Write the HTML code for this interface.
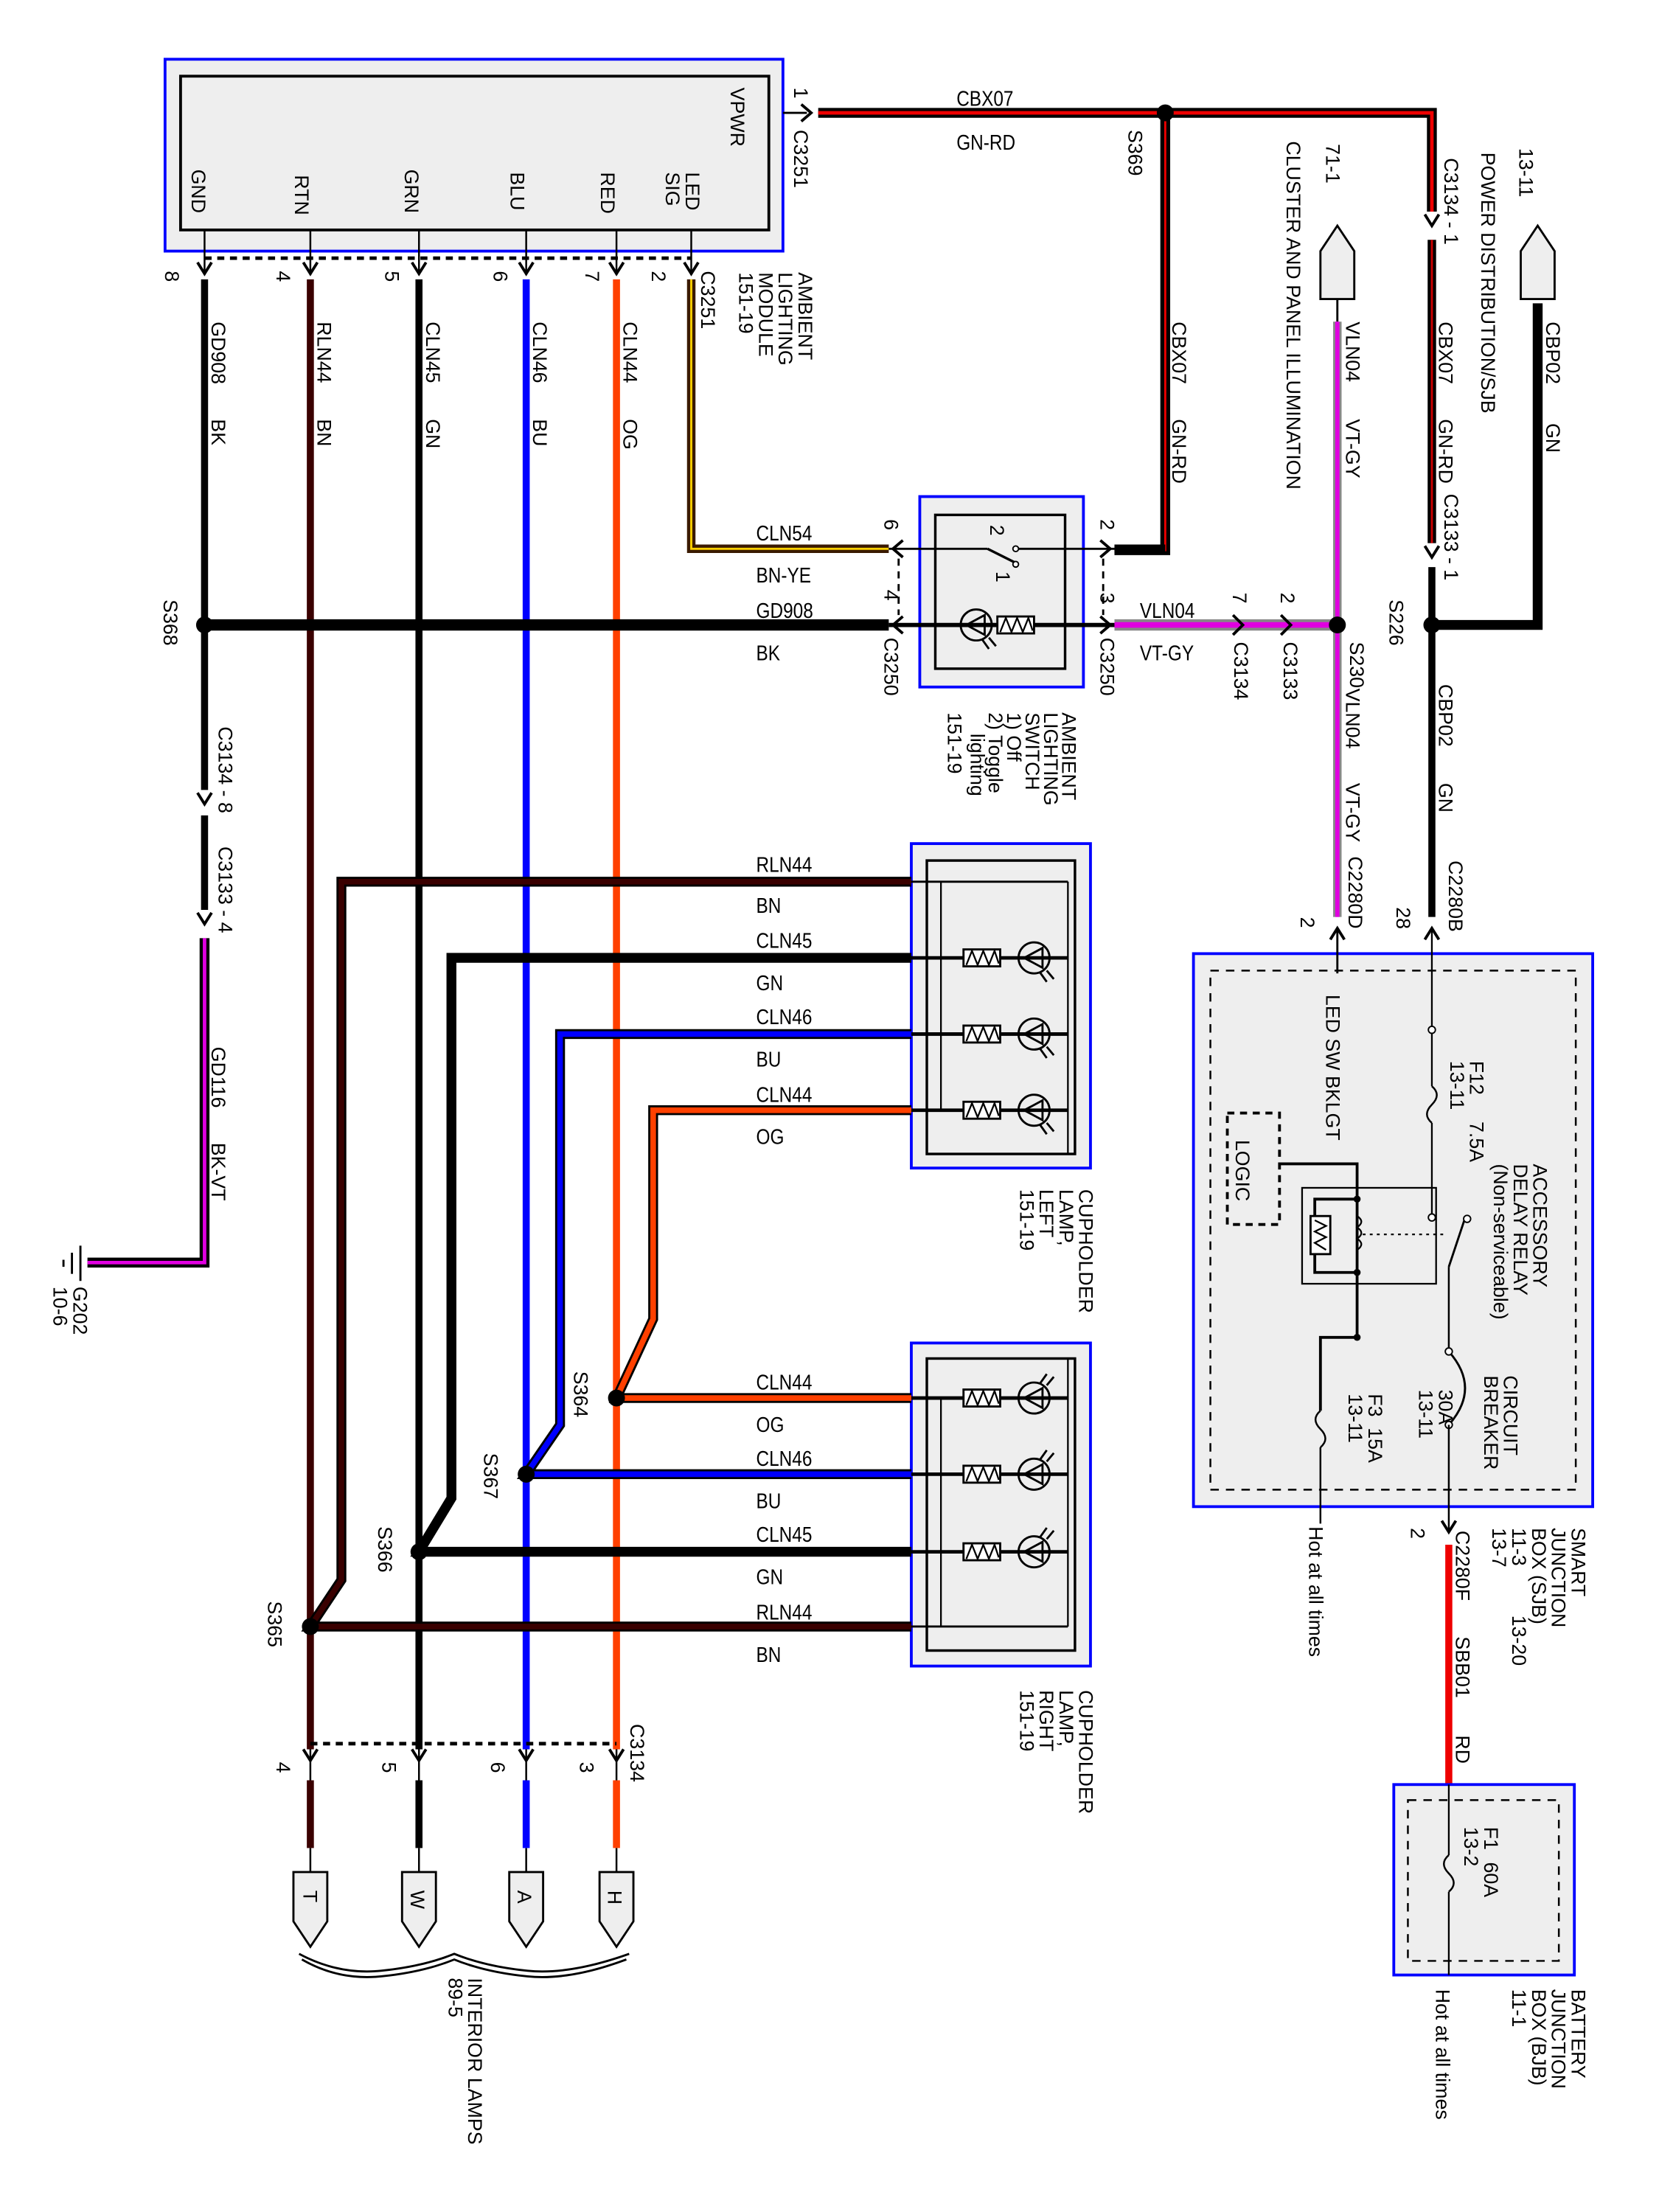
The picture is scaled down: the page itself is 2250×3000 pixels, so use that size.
<!DOCTYPE html>
<html><head><meta charset="utf-8"><style>
html,body{margin:0;padding:0;background:#fff;}
svg{display:block;}
text{font-family:"Liberation Sans",sans-serif;fill:#000;}
.r{font-size:14px;}
.h{font-size:15px;}
</style></head><body>
<svg width="2250" height="3000" viewBox="0 0 1176 1568" preserveAspectRatio="none" xmlns="http://www.w3.org/2000/svg">
<defs>
<g id="ad"><path d="M-5,-6 L0,2 L5,-6" fill="none" stroke="#000" stroke-width="2"/></g>
<g id="res"><rect x="0" y="-6" width="26" height="12" fill="#fff" stroke="#000" stroke-width="1.5"/><path d="M2,5 L6,-5 L10,5 L14,-5 L18,5 L22,-5 L25,4" fill="none" stroke="#000" stroke-width="1.2"/></g>
<g id="lamp"><circle cx="0" cy="0" r="11" fill="none" stroke="#000" stroke-width="1.5"/><path d="M-7,0 L6,-7 L6,7 Z" fill="none" stroke="#000" stroke-width="1.5"/><path d="M4,10 L9,17 M9,9 L14,15" stroke="#000" stroke-width="1.5"/></g>
</defs>

<!-- Ambient lighting module -->
<rect x="117" y="42" width="438" height="136" fill="#eee" stroke="#00f" stroke-width="2"/>
<rect x="128" y="54" width="417" height="109" fill="#eee" stroke="#000" stroke-width="2"/>
<g class="r">
<text transform="translate(518,62) rotate(90)">VPWR</text>
<text transform="translate(136,120) rotate(90)">GND</text>
<text transform="translate(209,124) rotate(90)">RTN</text>
<text transform="translate(287,120) rotate(90)">GRN</text>
<text transform="translate(362,122) rotate(90)">BLU</text>
<text transform="translate(426,122) rotate(90)">RED</text>
<text transform="translate(486,122) rotate(90)">LED</text>
<text transform="translate(472,122) rotate(90)">SIG</text>
<text transform="translate(563,62) rotate(90)">1</text>
<text transform="translate(563,92) rotate(90)">C3251</text>
<text transform="translate(800,92) rotate(90)">S369</text>
<text transform="translate(117,192) rotate(90)">8</text>
<text transform="translate(196,192) rotate(90)">4</text>
<text transform="translate(273,192) rotate(90)">5</text>
<text transform="translate(350,192) rotate(90)">6</text>
<text transform="translate(415,192) rotate(90)">7</text>
<text transform="translate(462,192) rotate(90)">2</text>
<text transform="translate(497,192) rotate(90)">C3251</text>
<text transform="translate(566,193) rotate(90)">AMBIENT</text>
<text transform="translate(552,193) rotate(90)">LIGHTING</text>
<text transform="translate(538,193) rotate(90)">MODULE</text>
<text transform="translate(524,193) rotate(90)">151-19</text>
</g>
<g stroke="#000" stroke-width="1.3">
<line x1="145" y1="163" x2="145" y2="195"/><line x1="220" y1="163" x2="220" y2="195"/>
<line x1="297" y1="163" x2="297" y2="195"/><line x1="373" y1="163" x2="373" y2="195"/>
<line x1="437" y1="163" x2="437" y2="195"/><line x1="490" y1="163" x2="490" y2="195"/>
</g>
<line x1="145" y1="183" x2="490" y2="183" stroke="#000" stroke-width="2.5" stroke-dasharray="5,4"/>
<use href="#ad" x="145" y="192"/><use href="#ad" x="220" y="192"/><use href="#ad" x="297" y="192"/>
<use href="#ad" x="373" y="192"/><use href="#ad" x="437" y="192"/><use href="#ad" x="490" y="192"/>

<line x1="145" y1="198" x2="145" y2="560" stroke="#000" stroke-width="5"/>
<line x1="220" y1="198" x2="220" y2="1240" stroke="#3a0000" stroke-width="5"/>
<line x1="297" y1="198" x2="297" y2="1240" stroke="#000" stroke-width="5"/>
<line x1="373" y1="198" x2="373" y2="1240" stroke="#0000ff" stroke-width="5"/>
<line x1="437" y1="198" x2="437" y2="1240" stroke="#ff4000" stroke-width="5"/>
<path d="M490,198 L490,389 L630,389" fill="none" stroke="#3a1a00" stroke-width="6"/>
<path d="M490,198 L490,389 L630,389" fill="none" stroke="#ffd000" stroke-width="1.5"/>
<g class="r">
<text transform="translate(150,228) rotate(90)">GD908</text><text transform="translate(150,297) rotate(90)">BK</text>
<text transform="translate(225,228) rotate(90)">RLN44</text><text transform="translate(225,297) rotate(90)">BN</text>
<text transform="translate(302,228) rotate(90)">CLN45</text><text transform="translate(302,297) rotate(90)">GN</text>
<text transform="translate(378,228) rotate(90)">CLN46</text><text transform="translate(378,297) rotate(90)">BU</text>
<text transform="translate(442,228) rotate(90)">CLN44</text><text transform="translate(442,297) rotate(90)">OG</text>
</g>

<line x1="555" y1="80" x2="572" y2="80" stroke="#000" stroke-width="1.5"/>
<path d="M568,74 L575,80 L568,86" fill="none" stroke="#000" stroke-width="2"/>
<path d="M580,80 L1015,80 L1015,150" fill="none" stroke="#000" stroke-width="7"/>
<path d="M580,80 L1015,80 L1015,150" fill="none" stroke="#e00" stroke-width="2.5"/>
<path d="M826,80 L826,390 L790,390" fill="none" stroke="#000" stroke-width="7"/>
<path d="M826,80 L826,390 L790,390" fill="none" stroke="#e00" stroke-width="1.5"/>
<circle cx="826" cy="80" r="6"/>
<text class="h" transform="translate(678,75) scale(0.85,1)">CBX07</text>
<text class="h" transform="translate(678,106) scale(0.85,1)">GN-RD</text>
<g class="r">
<text transform="translate(831,228) rotate(90)">CBX07</text><text transform="translate(831,297) rotate(90)">GN-RD</text>
</g>
<use href="#ad" x="1015" y="158"/>
<path d="M1015,170 L1015,385" stroke="#000" stroke-width="6"/>
<path d="M1015,170 L1015,385" stroke="#c00" stroke-width="1.5"/>
<use href="#ad" x="1015" y="393"/>
<line x1="1015" y1="402" x2="1015" y2="443" stroke="#000" stroke-width="5"/>
<line x1="1015" y1="443" x2="1015" y2="650" stroke="#000" stroke-width="5"/>
<path d="M1015,443 L1090,443 L1090,215" fill="none" stroke="#000" stroke-width="7"/>
<circle cx="1015" cy="443" r="6"/>
<path d="M1078,212 L1078,178 L1090,160 L1102,178 L1102,212 Z" fill="#eee" stroke="#000" stroke-width="1.5"/>
<g class="r">
<text transform="translate(1077,105) rotate(90)">13-11</text>
<text transform="translate(1050,108) rotate(90)">POWER DISTRIBUTION/SJB</text>
<text transform="translate(1024,112) rotate(90)">C3134 - 1</text>
<text transform="translate(1020,228) rotate(90)">CBX07</text><text transform="translate(1020,297) rotate(90)">GN-RD</text>
<text transform="translate(1024,350) rotate(90)">C3133 - 1</text>
<text transform="translate(1096,228) rotate(90)">CBP02</text><text transform="translate(1096,300) rotate(90)">GN</text>
<text transform="translate(985,425) rotate(90)">S226</text>
<text transform="translate(1020,485) rotate(90)">CBP02</text><text transform="translate(1020,555) rotate(90)">GN</text>
<text transform="translate(1027,610) rotate(90)">C2280B</text>
<text transform="translate(990,643) rotate(90)">28</text>
</g>

<path d="M936,212 L936,178 L948,160 L960,178 L960,212 Z" fill="#eee" stroke="#000" stroke-width="1.5"/>
<line x1="948" y1="212" x2="948" y2="228" stroke="#000" stroke-width="1.5"/>
<line x1="948" y1="228" x2="948" y2="650" stroke="#888" stroke-width="6"/>
<line x1="948" y1="228" x2="948" y2="650" stroke="#e000e0" stroke-width="3"/>
<line x1="790" y1="443" x2="948" y2="443" stroke="#888" stroke-width="8"/>
<line x1="790" y1="443" x2="948" y2="443" stroke="#e000e0" stroke-width="4"/>
<circle cx="948" cy="443" r="6"/>
<g class="r">
<text transform="translate(940,102) rotate(90)">71-1</text>
<text transform="translate(912,100) rotate(90)">CLUSTER AND PANEL ILLUMINATION</text>
<text transform="translate(954,228) rotate(90)">VLN04</text><text transform="translate(954,297) rotate(90)">VT-GY</text>
<text transform="translate(957,455) rotate(90)">S230</text>
<text transform="translate(954,488) rotate(90)">VLN04</text><text transform="translate(954,555) rotate(90)">VT-GY</text>
<text transform="translate(956,607) rotate(90)">C2280D</text>
<text transform="translate(922,650) rotate(90)">2</text>
<text transform="translate(874,420) rotate(90)">7</text>
<text transform="translate(908,420) rotate(90)">2</text>
<text transform="translate(875,455) rotate(90)">C3134</text>
<text transform="translate(910,455) rotate(90)">C3133</text>
</g>
<g fill="none" stroke="#000" stroke-width="2">
<path d="M874,436 L881,443 L874,450"/><path d="M908,436 L915,443 L908,450"/>
</g>
<text class="h" transform="translate(808,438) scale(0.85,1)">VLN04</text>
<text class="h" transform="translate(808,468) scale(0.85,1)">VT-GY</text>

<rect x="652" y="352" width="116" height="135" fill="#eee" stroke="#00f" stroke-width="2"/>
<rect x="663" y="365" width="92" height="109" fill="#eee" stroke="#000" stroke-width="1.8"/>
<line x1="630" y1="443" x2="790" y2="443" stroke="#000" stroke-width="3"/>
<line x1="145" y1="443" x2="630" y2="443" stroke="#000" stroke-width="8"/>
<circle cx="145" cy="443" r="6"/>
<line x1="630" y1="389" x2="700" y2="389" stroke="#000" stroke-width="1.5"/>
<line x1="700" y1="389" x2="720" y2="399" stroke="#000" stroke-width="1.8"/>
<circle cx="720" cy="400" r="2" fill="#fff" stroke="#000"/>
<circle cx="720" cy="389" r="2" fill="#fff" stroke="#000"/>
<line x1="722" y1="389" x2="790" y2="389" stroke="#000" stroke-width="1.5"/>
<line x1="790" y1="389" x2="826" y2="389" stroke="#000" stroke-width="6"/>
<use href="#lamp" x="692" y="443"/>
<use href="#res" x="707" y="443"/>
<g fill="none" stroke="#000" stroke-width="2">
<path d="M640,383 L633,389 L640,395"/><path d="M640,437 L633,443 L640,449"/>
<path d="M780,383 L787,389 L780,395"/><path d="M780,437 L787,443 L780,449"/>
</g>
<line x1="637" y1="396" x2="637" y2="436" stroke="#000" stroke-width="1.5" stroke-dasharray="5,4"/>
<line x1="782" y1="396" x2="782" y2="436" stroke="#000" stroke-width="1.5" stroke-dasharray="5,4"/>
<g class="r">
<text transform="translate(627,368) rotate(90)">6</text>
<text transform="translate(627,418) rotate(90)">4</text>
<text transform="translate(627,452) rotate(90)">C3250</text>
<text transform="translate(780,368) rotate(90)">2</text>
<text transform="translate(780,420) rotate(90)">3</text>
<text transform="translate(780,452) rotate(90)">C3250</text>
<text transform="translate(702,372) rotate(90)">2</text>
<text transform="translate(706,405) rotate(90)">1</text>
<text transform="translate(753,505) rotate(90)">AMBIENT</text>
<text transform="translate(740,505) rotate(90)">LIGHTING</text>
<text transform="translate(727,505) rotate(90)">SWITCH</text>
<text transform="translate(714,505) rotate(90)">1) Off</text>
<text transform="translate(701,505) rotate(90)">2) Toggle</text>
<text transform="translate(688,520) rotate(90)">lighting</text>
<text transform="translate(672,505) rotate(90)">151-19</text>
</g>
<g class="h">
<text transform="translate(536,383) scale(0.85,1)">CLN54</text>
<text transform="translate(536,413) scale(0.85,1)">BN-YE</text>
<text transform="translate(536,438) scale(0.85,1)">GD908</text>
<text transform="translate(536,468) scale(0.85,1)">BK</text>
</g>

<text class="r" transform="translate(116,425) rotate(90)">S368</text>
<use href="#ad" x="145" y="568"/>
<line x1="145" y1="578" x2="145" y2="645" stroke="#000" stroke-width="5"/>
<use href="#ad" x="145" y="653"/>
<path d="M145,665 L145,895 L62,895" fill="none" stroke="#000" stroke-width="7"/>
<path d="M145,665 L145,895 L62,895" fill="none" stroke="#e000e0" stroke-width="2.5"/>
<line x1="57" y1="883" x2="57" y2="908" stroke="#000" stroke-width="1.5"/>
<line x1="51" y1="888" x2="51" y2="903" stroke="#000" stroke-width="1.5"/>
<line x1="45" y1="893" x2="45" y2="898" stroke="#000" stroke-width="1.5"/>
<g class="r">
<text transform="translate(155,515) rotate(90)">C3134 - 8</text>
<text transform="translate(155,600) rotate(90)">C3133 - 4</text>
<text transform="translate(150,742) rotate(90)">GD116</text>
<text transform="translate(150,810) rotate(90)">BK-VT</text>
<text transform="translate(52,912) rotate(90)">G202</text>
<text transform="translate(38,912) rotate(90)">10-6</text>
</g>

<rect x="646" y="598" width="127" height="230" fill="#eee" stroke="#00f" stroke-width="2"/>
<rect x="657" y="610" width="105" height="208" fill="#eee" stroke="#000" stroke-width="1.8"/>
<line x1="646" y1="625" x2="757" y2="625" stroke="#000" stroke-width="1.5"/>
<line x1="667" y1="625" x2="667" y2="787" stroke="#000" stroke-width="1.2"/>
<line x1="757" y1="625" x2="757" y2="818" stroke="#000" stroke-width="1.2"/>
<g stroke="#000" stroke-width="2.5">
<line x1="646" y1="679" x2="757" y2="679"/><line x1="646" y1="733" x2="757" y2="733"/><line x1="646" y1="787" x2="757" y2="787"/>
</g>
<use href="#res" x="683" y="679"/><use href="#res" x="683" y="733"/><use href="#res" x="683" y="787"/>
<use href="#lamp" x="733" y="679"/><use href="#lamp" x="733" y="733"/><use href="#lamp" x="733" y="787"/>
<g class="r">
<text transform="translate(765,843) rotate(90)">CUPHOLDER</text>
<text transform="translate(751,843) rotate(90)">LAMP,</text>
<text transform="translate(737,843) rotate(90)">LEFT</text>
<text transform="translate(723,843) rotate(90)">151-19</text>
</g>

<rect x="646" y="952" width="127" height="229" fill="#eee" stroke="#00f" stroke-width="2"/>
<rect x="657" y="963" width="105" height="207" fill="#eee" stroke="#000" stroke-width="1.8"/>
<line x1="646" y1="1153" x2="757" y2="1153" stroke="#000" stroke-width="1.5"/>
<line x1="667" y1="991" x2="667" y2="1153" stroke="#000" stroke-width="1.2"/>
<line x1="757" y1="963" x2="757" y2="1153" stroke="#000" stroke-width="1.2"/>
<g stroke="#000" stroke-width="2.5">
<line x1="646" y1="991" x2="757" y2="991"/><line x1="646" y1="1045" x2="757" y2="1045"/><line x1="646" y1="1100" x2="757" y2="1100"/>
</g>
<use href="#res" x="683" y="991"/><use href="#res" x="683" y="1045"/><use href="#res" x="683" y="1100"/>
<g transform="translate(733,991) scale(1,-1)"><use href="#lamp"/></g>
<g transform="translate(733,1045) scale(1,-1)"><use href="#lamp"/></g>
<g transform="translate(733,1100) scale(1,-1)"><use href="#lamp"/></g>
<g class="r">
<text transform="translate(765,1198) rotate(90)">CUPHOLDER</text>
<text transform="translate(751,1198) rotate(90)">LAMP,</text>
<text transform="translate(737,1198) rotate(90)">RIGHT</text>
<text transform="translate(723,1198) rotate(90)">151-19</text>
</g>

<path d="M646,625 L242,625 L242,1120 L220,1153 L646,1153" fill="none" stroke="#000" stroke-width="7"/>
<path d="M646,625 L242,625 L242,1120 L220,1153 L646,1153" fill="none" stroke="#3a0000" stroke-width="4"/>
<path d="M646,679 L320,679 L320,1062 L297,1100 L646,1100" fill="none" stroke="#000" stroke-width="7"/>
<path d="M646,733 L397,733 L397,1010 L373,1045 L646,1045" fill="none" stroke="#000" stroke-width="7"/>
<path d="M646,733 L397,733 L397,1010 L373,1045 L646,1045" fill="none" stroke="#0000ff" stroke-width="4"/>
<path d="M646,787 L463,787 L463,935 L437,991 L646,991" fill="none" stroke="#000" stroke-width="7"/>
<path d="M646,787 L463,787 L463,935 L437,991 L646,991" fill="none" stroke="#ff4000" stroke-width="4"/>
<circle cx="437" cy="991" r="6"/><circle cx="373" cy="1045" r="6"/><circle cx="297" cy="1100" r="6"/><circle cx="220" cy="1153" r="6"/>
<g class="h">
<text transform="translate(536,618) scale(0.85,1)">RLN44</text><text transform="translate(536,647) scale(0.85,1)">BN</text>
<text transform="translate(536,672) scale(0.85,1)">CLN45</text><text transform="translate(536,702) scale(0.85,1)">GN</text>
<text transform="translate(536,726) scale(0.85,1)">CLN46</text><text transform="translate(536,756) scale(0.85,1)">BU</text>
<text transform="translate(536,781) scale(0.85,1)">CLN44</text><text transform="translate(536,811) scale(0.85,1)">OG</text>
<text transform="translate(536,985) scale(0.85,1)">CLN44</text><text transform="translate(536,1015) scale(0.85,1)">OG</text>
<text transform="translate(536,1039) scale(0.85,1)">CLN46</text><text transform="translate(536,1069) scale(0.85,1)">BU</text>
<text transform="translate(536,1093) scale(0.85,1)">CLN45</text><text transform="translate(536,1123) scale(0.85,1)">GN</text>
<text transform="translate(536,1148) scale(0.85,1)">RLN44</text><text transform="translate(536,1178) scale(0.85,1)">BN</text>
</g>
<g class="r">
<text transform="translate(407,972) rotate(90)">S364</text>
<text transform="translate(343,1030) rotate(90)">S367</text>
<text transform="translate(268,1082) rotate(90)">S366</text>
<text transform="translate(190,1135) rotate(90)">S365</text>
</g>

<line x1="220" y1="1236" x2="437" y2="1236" stroke="#000" stroke-width="2.5" stroke-dasharray="5,4"/>
<use href="#ad" x="220" y="1246"/><use href="#ad" x="297" y="1246"/><use href="#ad" x="373" y="1246"/><use href="#ad" x="437" y="1246"/>
<g stroke="#000" stroke-width="1.3">
<line x1="220" y1="1240" x2="220" y2="1262"/><line x1="297" y1="1240" x2="297" y2="1262"/><line x1="373" y1="1240" x2="373" y2="1262"/><line x1="437" y1="1240" x2="437" y2="1262"/>
<line x1="220" y1="1310" x2="220" y2="1327"/><line x1="297" y1="1310" x2="297" y2="1327"/><line x1="373" y1="1310" x2="373" y2="1327"/><line x1="437" y1="1310" x2="437" y2="1327"/>
</g>
<line x1="220" y1="1262" x2="220" y2="1310" stroke="#3a0000" stroke-width="5"/>
<line x1="297" y1="1262" x2="297" y2="1310" stroke="#000" stroke-width="5"/>
<line x1="373" y1="1262" x2="373" y2="1310" stroke="#0000ff" stroke-width="5"/>
<line x1="437" y1="1262" x2="437" y2="1310" stroke="#ff4000" stroke-width="5"/>
<g fill="#eee" stroke="#000" stroke-width="1.5">
<path d="M208,1327 L232,1327 L232,1362 L220,1380 L208,1362 Z"/>
<path d="M285,1327 L309,1327 L309,1362 L297,1380 L285,1362 Z"/>
<path d="M361,1327 L385,1327 L385,1362 L373,1380 L361,1362 Z"/>
<path d="M425,1327 L449,1327 L449,1362 L437,1380 L425,1362 Z"/>
</g>
<g class="r">
<text transform="translate(215,1340) rotate(90)">T</text>
<text transform="translate(291,1340) rotate(90)">W</text>
<text transform="translate(367,1340) rotate(90)">A</text>
<text transform="translate(431,1340) rotate(90)">H</text>
<text transform="translate(196,1249) rotate(90)">4</text>
<text transform="translate(271,1249) rotate(90)">5</text>
<text transform="translate(348,1249) rotate(90)">6</text>
<text transform="translate(411,1249) rotate(90)">3</text>
<text transform="translate(447,1222) rotate(90)">C3134</text>
<text transform="translate(332,1402) rotate(90)">INTERIOR LAMPS</text>
<text transform="translate(318,1402) rotate(90)">89-5</text>
</g>
<g fill="none" stroke="#000" stroke-width="1.5">
<path d="M212,1385 Q240,1400 270,1397 Q300,1394 322,1385 Q344,1394 374,1397 Q404,1400 446,1385"/>
<path d="M214,1389 Q240,1404 270,1401 Q300,1398 322,1389 Q344,1398 374,1401 Q404,1404 444,1389"/>
</g>

<rect x="846" y="676" width="283" height="392" fill="#eee" stroke="#00f" stroke-width="2"/>
<rect x="858" y="688" width="259" height="368" fill="none" stroke="#000" stroke-width="1.3" stroke-dasharray="6,5"/>
<use href="#ad" x="948" y="668" transform="rotate(180,948,664)"/>
<use href="#ad" x="1015" y="668" transform="rotate(180,1015,664)"/>
<line x1="948" y1="658" x2="948" y2="690" stroke="#000" stroke-width="1.5"/>
<line x1="1015" y1="658" x2="1015" y2="770" stroke="#000" stroke-width="1.2"/>
<circle cx="1015" cy="730" r="2.5" fill="#fff" stroke="#000"/>
<path d="M1015,770 Q1022,776 1015,783 Q1008,790 1015,796" fill="none" stroke="#000" stroke-width="1.3"/>
<line x1="1015" y1="796" x2="1015" y2="863" stroke="#000" stroke-width="1.2"/>
<circle cx="1015" cy="863" r="2.5" fill="#fff" stroke="#000"/>
<rect x="923" y="842" width="95" height="68" fill="none" stroke="#000" stroke-width="1.2"/>
<rect x="870" y="789" width="37" height="79" fill="none" stroke="#000" stroke-width="2" stroke-dasharray="5,4"/>
<path d="M907,825 L962,825 L962,948 L936,948 L936,1000" fill="none" stroke="#000" stroke-width="2"/>
<path d="M962,850 L932,850 L932,902 L962,902" fill="none" stroke="#000" stroke-width="2"/>
<rect x="929" y="862" width="14" height="27" fill="#fff" stroke="#000" stroke-width="1.5"/>
<path d="M932,865 L940,869 L932,873 L940,877 L932,881 L940,886" fill="none" stroke="#000" stroke-width="1.2"/>
<path d="M962,862 q6,4 0,8 q6,4 0,8 q6,4 0,8" fill="none" stroke="#000" stroke-width="1.2"/>
<line x1="966" y1="875" x2="1025" y2="875" stroke="#000" stroke-width="1.2" stroke-dasharray="2,3"/>
<circle cx="962" cy="850" r="2.5"/><circle cx="962" cy="902" r="2.5"/><circle cx="962" cy="948" r="2.5"/>
<line x1="1027" y1="898" x2="1038" y2="865" stroke="#000" stroke-width="1.5"/>
<circle cx="1040" cy="864" r="2.5" fill="#fff" stroke="#000"/>
<path d="M1027,898 L1027,958" fill="none" stroke="#000" stroke-width="1.3"/>
<path d="M1027,958 Q1050,984 1027,1010" fill="none" stroke="#000" stroke-width="1.5"/>
<circle cx="1027" cy="958" r="2.5" fill="#fff" stroke="#000"/><circle cx="1027" cy="1010" r="2.5" fill="#fff" stroke="#000"/>
<line x1="1027" y1="1010" x2="1027" y2="1085" stroke="#000" stroke-width="1.3"/>
<path d="M936,1000 Q929,1006 936,1013 Q943,1020 936,1026" fill="none" stroke="#000" stroke-width="1.3"/>
<line x1="936" y1="1026" x2="936" y2="1080" stroke="#000" stroke-width="1.3"/>
<use href="#ad" x="1027" y="1084"/>
<g class="r">
<text transform="translate(940,705) rotate(90)">LED SW BKLGT</text>
<text transform="translate(1042,752) rotate(90)">F12</text>
<text transform="translate(1042,795) rotate(90)">7.5A</text>
<text transform="translate(1028,752) rotate(90)">13-11</text>
<text transform="translate(1087,825) rotate(90)">ACCESSORY</text>
<text transform="translate(1073,825) rotate(90)">DELAY RELAY</text>
<text transform="translate(1059,825) rotate(90)">(Non-serviceable)</text>
<text transform="translate(876,808) rotate(90)">LOGIC</text>
<text transform="translate(1066,975) rotate(90)">CIRCUIT</text>
<text transform="translate(1052,975) rotate(90)">BREAKER</text>
<text transform="translate(1020,985) rotate(90)">30A</text>
<text transform="translate(1006,985) rotate(90)">13-11</text>
<text transform="translate(970,988) rotate(90)">F3</text>
<text transform="translate(970,1012) rotate(90)">15A</text>
<text transform="translate(956,988) rotate(90)">13-11</text>
<text transform="translate(928,1082) rotate(90)">Hot at all times</text>
<text transform="translate(1114,1083) rotate(90)">SMART</text>
<text transform="translate(1100,1083) rotate(90)">JUNCTION</text>
<text transform="translate(1086,1083) rotate(90)">BOX (SJB)</text>
<text transform="translate(1072,1083) rotate(90)">11-3</text>
<text transform="translate(1058,1083) rotate(90)">13-7</text>
<text transform="translate(1072,1145) rotate(90)">13-20</text>
<text transform="translate(1000,1083) rotate(90)">2</text>
<text transform="translate(1032,1085) rotate(90)">C2280F</text>
<text transform="translate(1032,1160) rotate(90)">SBB01</text>
<text transform="translate(1032,1230) rotate(90)">RD</text>
</g>
<line x1="1027" y1="1095" x2="1027" y2="1265" stroke="#e00" stroke-width="5"/>

<rect x="988" y="1265" width="128" height="135" fill="#eee" stroke="#00f" stroke-width="2"/>
<rect x="998" y="1276" width="107" height="114" fill="none" stroke="#000" stroke-width="1.3" stroke-dasharray="6,5"/>
<line x1="1027" y1="1265" x2="1027" y2="1315" stroke="#000" stroke-width="1.2"/>
<path d="M1027,1315 Q1020,1321 1027,1328 Q1034,1335 1027,1341" fill="none" stroke="#000" stroke-width="1.3"/>
<line x1="1027" y1="1341" x2="1027" y2="1400" stroke="#000" stroke-width="1.2"/>
<g class="r">
<text transform="translate(1052,1295) rotate(90)">F1</text>
<text transform="translate(1052,1320) rotate(90)">60A</text>
<text transform="translate(1038,1295) rotate(90)">13-2</text>
<text transform="translate(1018,1410) rotate(90)">Hot at all times</text>
<text transform="translate(1114,1410) rotate(90)">BATTERY</text>
<text transform="translate(1100,1410) rotate(90)">JUNCTION</text>
<text transform="translate(1086,1410) rotate(90)">BOX (BJB)</text>
<text transform="translate(1072,1410) rotate(90)">11-1</text>
</g>
</svg>
</body></html>
